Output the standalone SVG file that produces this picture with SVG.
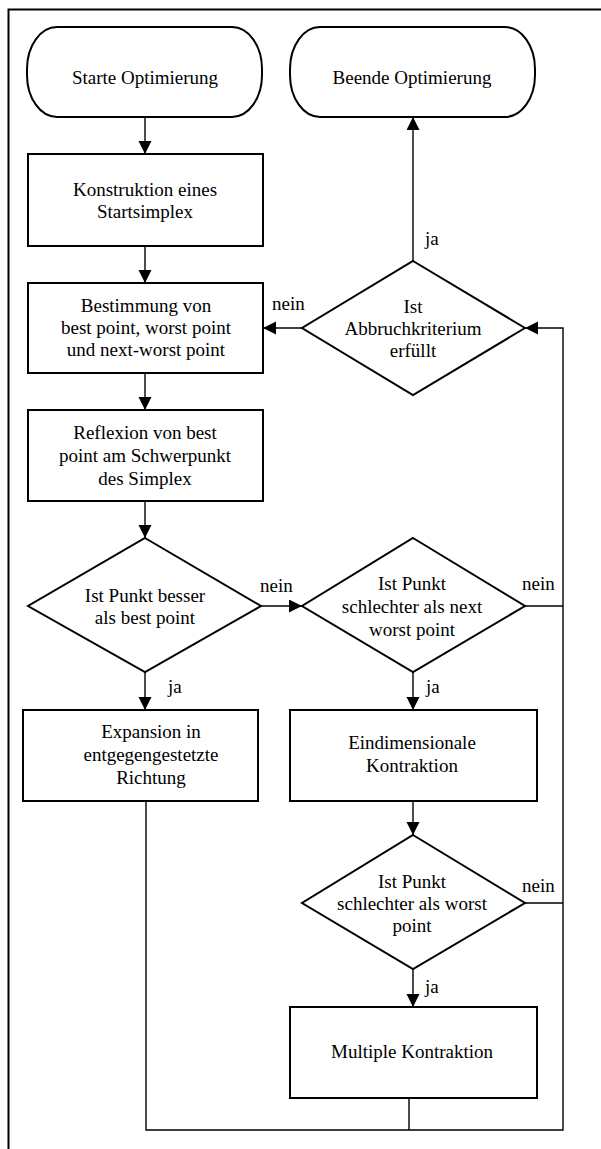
<svg xmlns="http://www.w3.org/2000/svg" width="601" height="1149" viewBox="0 0 601 1149">
<style>
.n{fill:#fff;stroke:#000;stroke-width:2}
.t{font-family:"Liberation Serif","Times New Roman",serif;font-size:19px;fill:#000;text-anchor:middle}
.l{font-family:"Liberation Serif","Times New Roman",serif;font-size:19px;fill:#000}
.c{fill:none;stroke:#000;stroke-width:1.4}
.a{marker-end:url(#ah)}
</style>
<defs>
<marker id="ah" markerUnits="userSpaceOnUse" markerWidth="14" markerHeight="14" refX="13" refY="6.5" orient="auto">
<path d="M0,0 L13,6.5 L0,13 z" fill="#000"/>
</marker>
</defs>
<rect width="601" height="1149" fill="#fff"/>
<g id="frame">
<path d="M8.5,1149 V9.5 H601" fill="none" stroke="#000" stroke-width="2"/>
</g>
<g id="connectors">
<path class="c a" d="M145,117 V154"/>
<path class="c a" d="M145,246 V283"/>
<path class="c a" d="M145,373 V410"/>
<path class="c a" d="M145,501 V538"/>
<path class="c a" d="M145,672 V710"/>
<path class="c a" d="M261,606 H302"/>
<path class="c a" d="M302,328 H263"/>
<path class="c a" d="M413,261 V117"/>
<path class="c a" d="M413,672 V710"/>
<path class="c a" d="M413,801 V835"/>
<path class="c a" d="M413,969 V1007"/>
<path class="c" d="M525,606 H563"/>
<path class="c" d="M525,903 H563"/>
<path class="c" d="M409,1098 V1130"/>
<path class="c a" d="M146,801 V1130 H563 V328 H525"/>
<text class="l" x="425" y="245">ja</text>
<text class="l" x="272" y="310">nein</text>
<text class="l" x="260" y="592">nein</text>
<text class="l" x="522" y="590">nein</text>
<text class="l" x="168" y="693">ja</text>
<text class="l" x="426" y="693">ja</text>
<text class="l" x="522" y="892">nein</text>
<text class="l" x="425" y="993">ja</text>
</g>
<g id="start">
<rect class="n" x="27" y="27" width="235" height="90" rx="30" ry="42"/>
<text class="t" x="145" y="84">Starte Optimierung</text>
</g>
<g id="end">
<rect class="n" x="290" y="27" width="245" height="90" rx="30" ry="42"/>
<text class="t" x="412" y="84">Beende Optimierung</text>
</g>
<g id="konstruktion">
<rect class="n" x="28" y="154" width="235" height="92"/>
<text class="t" x="145" y="196">Konstruktion eines</text>
<text class="t" x="145" y="218">Startsimplex</text>
</g>
<g id="bestimmung">
<rect class="n" x="28" y="283" width="235" height="90"/>
<text class="t" x="146" y="312">Bestimmung von</text>
<text class="t" x="146" y="334">best point, worst point</text>
<text class="t" x="146" y="356">und next-worst point</text>
</g>
<g id="abbruch">
<polygon class="n" points="413,261 525,328 413,395 302,328"/>
<text class="t" x="413" y="313">Ist</text>
<text class="t" x="413" y="335">Abbruchkriterium</text>
<text class="t" x="413" y="357">erfüllt</text>
</g>
<g id="reflexion">
<rect class="n" x="28" y="410" width="235" height="91"/>
<text class="t" x="145" y="439">Reflexion von best</text>
<text class="t" x="145" y="462">point am Schwerpunkt</text>
<text class="t" x="145" y="485">des Simplex</text>
</g>
<g id="besser">
<polygon class="n" points="145,538 261,606 145,672 28,606"/>
<text class="t" x="145" y="602">Ist Punkt besser</text>
<text class="t" x="145" y="624">als best point</text>
</g>
<g id="nextworst">
<polygon class="n" points="413,538 525,606 413,672 302,606"/>
<text class="t" x="412" y="590">Ist Punkt</text>
<text class="t" x="412" y="613">schlechter als next</text>
<text class="t" x="412" y="636">worst point</text>
</g>
<g id="expansion">
<rect class="n" x="23" y="710" width="235" height="91"/>
<text class="t" x="151" y="738">Expansion in</text>
<text class="t" x="151" y="761">entgegengestetzte</text>
<text class="t" x="151" y="784">Richtung</text>
</g>
<g id="eindimensional">
<rect class="n" x="290" y="710" width="247" height="91"/>
<text class="t" x="412" y="749">Eindimensionale</text>
<text class="t" x="412" y="772">Kontraktion</text>
</g>
<g id="worst">
<polygon class="n" points="413,835 525,903 413,969 302,903"/>
<text class="t" x="412" y="888">Ist Punkt</text>
<text class="t" x="412" y="910">schlechter als worst</text>
<text class="t" x="412" y="932">point</text>
</g>
<g id="multiple">
<rect class="n" x="290" y="1007" width="247" height="91"/>
<text class="t" x="412" y="1058">Multiple Kontraktion</text>
</g>
</svg>
